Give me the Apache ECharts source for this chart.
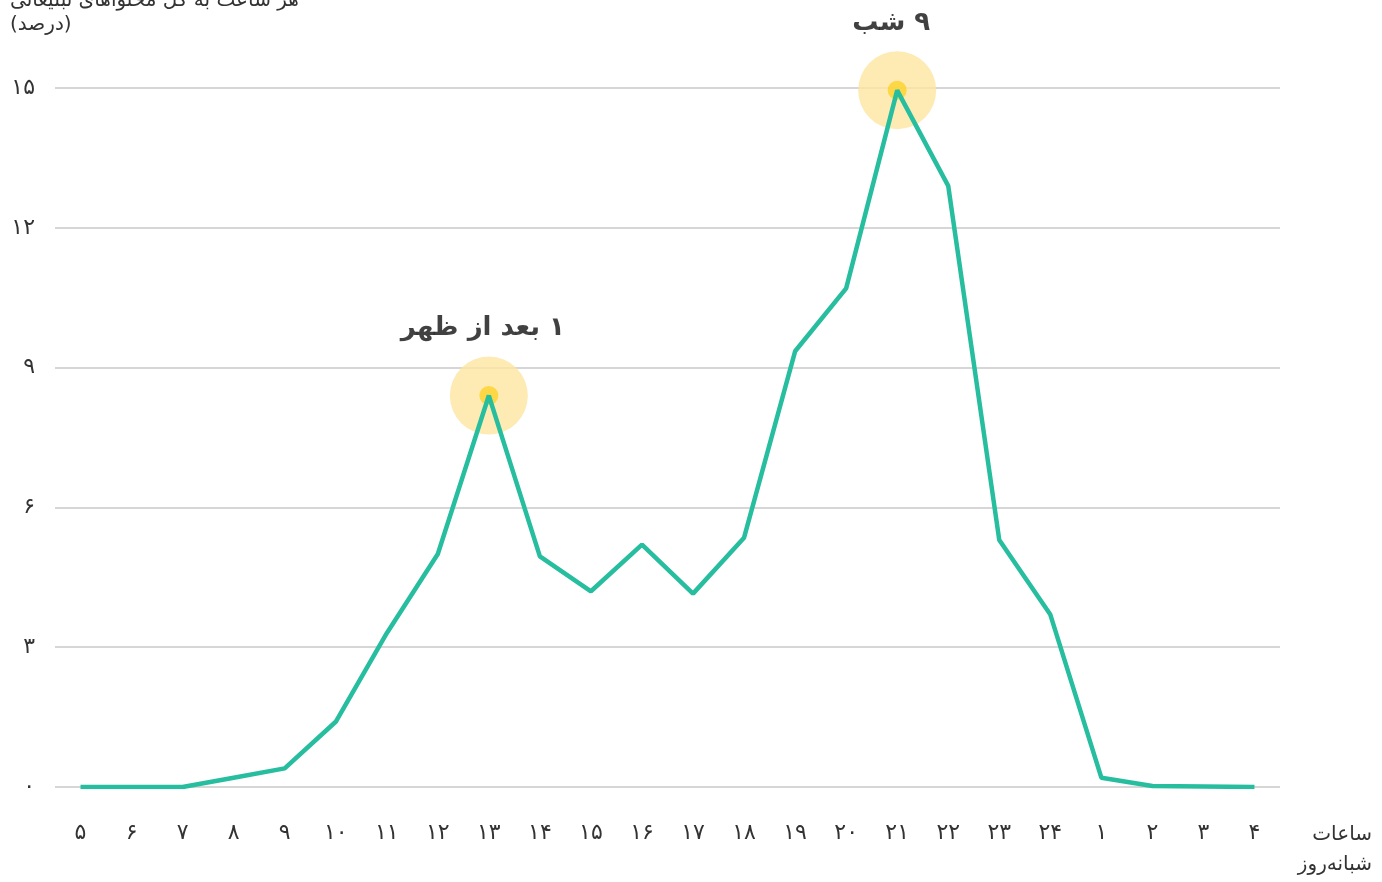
<!DOCTYPE html>
<html>
<head>
<meta charset="utf-8">
<script src="https://cdn.jsdelivr.net/npm/echarts@6/dist/echarts.min.js"></script>
<style>
  html, body { margin: 0; padding: 0; background: #fff; }
  #chart { width: 1382px; height: 882px; }
</style>
</head>
<body>
<div id="chart"></div>
<script>
// hours of the day (Persian digits), from 5 am round to 4 am
const hours = ["۵", "۶", "۷", "۸", "۹", "۱۰", "۱۱", "۱۲", "۱۳", "۱۴", "۱۵", "۱۶",
  "۱۷", "۱۸", "۱۹", "۲۰", "۲۱", "۲۲", "۲۳", "۲۴", "۱", "۲", "۳", "۴"];
// share of each hour in all ad content (percent)
const shares = [0, 0, 0, 0.2, 0.4, 1.4, 3.3, 5.0, 8.4, 4.95, 4.2, 5.2,
  4.15, 5.35, 9.35, 10.7, 14.95, 12.9, 5.3, 3.7, 0.2, 0.02, 0.01, 0];
const yTicks = ["۰", "۳", "۶", "۹", "۱۲", "۱۵"];
// highlighted peaks
const peakHours = ["۱۳", "۲۱"];
const peakNotes = ["۱ بعد از ظهر", "۹ شب"];

const font = "'DejaVu Sans', 'Noto Sans', sans-serif";
// right-to-left embedding so the digit stays on the right
const rtl = s => "\u202B" + s + "\u202C";
const peaks = peakHours.map((h, i) => ({
  value: [h, shares[hours.indexOf(h)]],
  note: peakNotes[i]
}));

const myChart = echarts.init(document.getElementById("chart"));
myChart.setOption({
  animation: false,
  grid: {
    top: 88,
    left: 55,
    right: 102,
    bottom: 95,
    containLabel: false
  },
  graphic: [
    {
      type: "text",
      left: 10,
      top: -9,
      style: {
        text: rtl("هر ساعت به کل محتواهای تبلیغاتی"),
        font: "20px " + font,
        fill: "#333"
      }
    },
    {
      type: "text",
      left: 10,
      top: 15,
      style: {
        text: rtl("(درصد)"),
        font: "20px " + font,
        fill: "#333"
      }
    },
    {
      type: "text",
      right: 10,
      top: 825,
      style: {
        text: "ساعات",
        font: "20px " + font,
        fill: "#333",
        align: "right"
      }
    },
    {
      type: "text",
      right: 10,
      top: 855,
      style: {
        text: "شبانه‌روز",
        font: "20px " + font,
        fill: "#333",
        align: "right"
      }
    }
  ],
  xAxis: {
    type: "category",
    data: hours,
    boundaryGap: true,
    axisLine: { show: false },
    axisTick: { show: false },
    splitLine: { show: false },
    axisLabel: {
      margin: 35,
      fontSize: 22,
      fontFamily: font,
      color: "#333"
    }
  },
  yAxis: {
    type: "value",
    min: 0,
    max: 15,
    interval: 3,
    axisLine: { show: false },
    axisTick: { show: false },
    splitLine: {
      lineStyle: { color: "#d6d6d6", width: 2 }
    },
    axisLabel: {
      margin: 20,
      align: "right",
      fontSize: 22,
      fontFamily: font,
      color: "#333",
      formatter: v => yTicks[Math.round(v / 3)]
    }
  },
  series: [
    {
      type: "scatter",
      z: 1,
      silent: true,
      symbolSize: 78,
      itemStyle: { color: "#fde6a0" },
      label: {
        show: true,
        position: "top",
        distance: 15,
        offset: [-6, 0],
        formatter: p => rtl(p.data.note),
        fontSize: 26,
        fontWeight: "bold",
        fontFamily: font,
        color: "#111"
      },
      data: peaks
    },
    {
      type: "scatter",
      z: 2,
      silent: true,
      symbolSize: 19,
      itemStyle: { color: "#fcd22a" },
      data: peaks.map(p => p.value)
    },
    {
      type: "line",
      z: 3,
      showSymbol: false,
      lineStyle: {
        width: 4.5,
        color: "#27bd9f"
      },
      data: shares
    }
  ]
});
</script>
</body>
</html>
